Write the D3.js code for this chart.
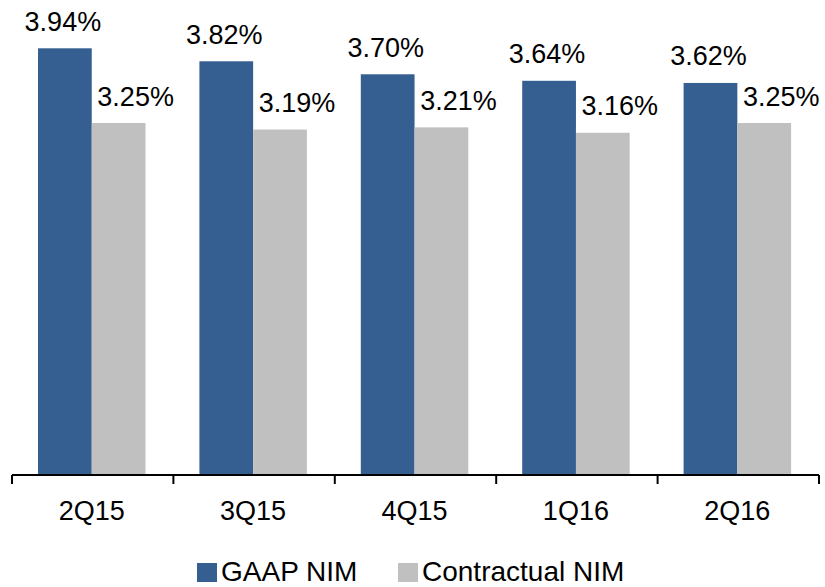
<!DOCTYPE html>
<html>
<head>
<meta charset="utf-8">
<script src="https://cdn.jsdelivr.net/npm/d3@7"></script>
<style>
  html, body { margin: 0; padding: 0; background: #fff; }
  svg text { font-family: "Liberation Sans", Arial, sans-serif; fill: #000; }
</style>
</head>
<body>
<svg id="chart" width="825" height="587"></svg>
<script>
// Net interest margin by quarter
const quarters = ["2Q15", "3Q15", "4Q15", "1Q16", "2Q16"];
const seriesNames = ["GAAP NIM", "Contractual NIM"];
const gaapNim = [3.94, 3.82, 3.70, 3.64, 3.62];
const contractualNim = [3.25, 3.19, 3.21, 3.16, 3.25];
const seriesColors = ["#365F91", "#C0C0C0"];

const svg = d3.select("#chart");
const baseY = 475;

const x0 = d3.scaleBand().domain(quarters).range([12, 819]).padding(0);
const x1 = d3.scaleBand().domain(seriesNames).range([26, 133.5]).padding(0);
const y = d3.scaleLinear().domain([0, 4]).range([baseY, baseY - 433.2]);

const rows = quarters.map((q, i) => ({
  q,
  vals: [
    { s: seriesNames[0], v: gaapNim[i], c: seriesColors[0], dx: -2 },
    { s: seriesNames[1], v: contractualNim[i], c: seriesColors[1], dx: 17 }
  ]
}));

const groups = svg.selectAll("g.grp").data(rows).join("g")
  .attr("class", "grp")
  .attr("transform", d => `translate(${x0(d.q)},0)`);

groups.selectAll("rect").data(d => d.vals).join("rect")
  .attr("x", d => x1(d.s))
  .attr("width", x1.bandwidth())
  .attr("y", d => y(d.v))
  .attr("height", d => baseY - y(d.v))
  .attr("fill", d => d.c);

groups.selectAll("text.val").data(d => d.vals).join("text")
  .attr("class", "val")
  .attr("x", d => x1(d.s) + x1.bandwidth() / 2 + d.dx)
  .attr("y", d => y(d.v) - 17.5)
  .attr("text-anchor", "middle")
  .attr("font-size", 27)
  .text(d => d.v.toFixed(2) + "%");

// Category axis: baseline with ticks at group boundaries
const axis = svg.append("g");
axis.append("line")
  .attr("x1", 12).attr("x2", 819)
  .attr("y1", baseY).attr("y2", baseY)
  .attr("stroke", "#000").attr("stroke-width", 2);

const boundaries = quarters.map(q => x0(q)).concat([x0.range()[1]]);
axis.selectAll("line.tick").data(boundaries).join("line")
  .attr("class", "tick")
  .attr("x1", d => d).attr("x2", d => d)
  .attr("y1", baseY).attr("y2", baseY + 9)
  .attr("stroke", "#000").attr("stroke-width", 2);

axis.selectAll("text.cat").data(quarters).join("text")
  .attr("class", "cat")
  .attr("x", d => x0(d) + x0.bandwidth() / 2 - 1)
  .attr("y", 520)
  .attr("text-anchor", "middle")
  .attr("font-size", 27)
  .text(d => d);

// Legend
const legendItems = [
  { name: seriesNames[0], color: seriesColors[0], x: 197 },
  { name: seriesNames[1], color: seriesColors[1], x: 398 }
];
const legend = svg.selectAll("g.leg").data(legendItems).join("g")
  .attr("class", "leg")
  .attr("transform", d => `translate(${d.x},0)`);
legend.append("rect")
  .attr("x", 0).attr("y", 563)
  .attr("width", 20).attr("height", 19)
  .attr("fill", d => d.color);
legend.append("text")
  .attr("x", 24).attr("y", 581)
  .attr("font-size", 28)
  .text(d => d.name);
</script>
</body>
</html>
